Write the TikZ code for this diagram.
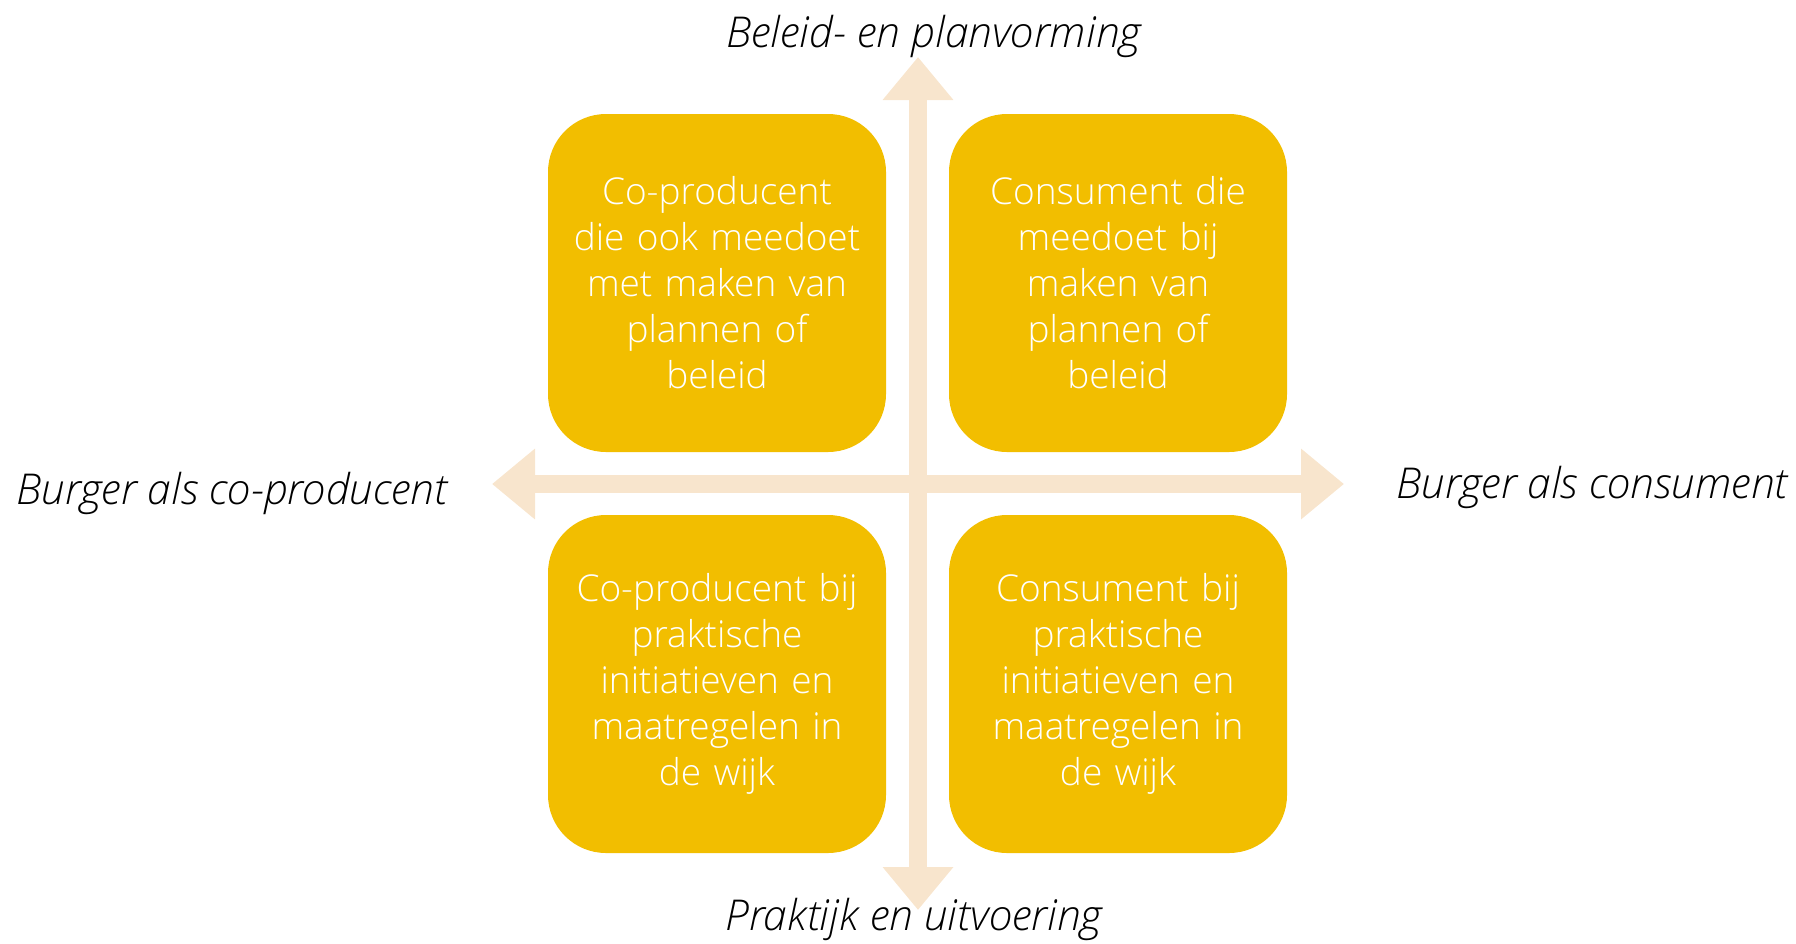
\documentclass[tikz,border=0pt]{standalone}
\usepackage{fontspec}
\setmainfont{Open Sans}
\newfontfamily\boxfont{Open Sans Light}
\usetikzlibrary{arrows.meta}
\definecolor{boxyellow}{HTML}{F2BE00}
\definecolor{axiscol}{HTML}{F8E5CD}
\tikzset{
  quad/.style={fill=boxyellow, draw=none, rounded corners=58pt, minimum width=338pt, minimum height=338pt, text width=310pt, align=center, text=white, font=\boxfont\fontsize{37}{46}\selectfont, inner sep=0pt},
  axis/.style={draw=axiscol, line width=18pt, {Triangle[length=43pt,width=68pt]}-{Triangle[length=43pt,width=68pt]}},
  axlabel/.style={font=\boxfont\itshape\fontsize{42.5}{50}\selectfont, text=black, inner sep=0pt}
}
\begin{document}
\begin{tikzpicture}[x=1pt,y=-1pt]
\useasboundingbox (0,0) rectangle (1796,943);
\coordinate (top) at (918,57);
\coordinate (bottom) at (918,910);
\coordinate (left) at (492,484);
\coordinate (right) at (1344,484);
\draw[axis] (bottom) -- (top);
\draw[axis] (left) -- (right);
\node[quad] (tl) at (717,283) {Co-producent\\die ook meedoet\\met maken van\\plannen of\\beleid};
\node[quad] (tr) at (1118,283) {Consument die\\meedoet bij\\maken van\\plannen of\\beleid};
\node[quad] (bl) at (717,684) {Co-producent bij\\praktische\\initiatieven en\\maatregelen in\\de wijk};
\node[quad] (br) at (1118,684) {Consument bij\\praktische\\initiatieven en\\maatregelen in\\de wijk};
\node[axlabel] (ltop) at (934,36) {Beleid- en planvorming};
\node[axlabel] (lbot) at (914,919) {Praktijk en uitvoering};
\node[axlabel] (lleft) at (232,493) {Burger als co-producent};
\node[axlabel] (lright) at (1592,487) {Burger als consument};
\end{tikzpicture}
\end{document}
